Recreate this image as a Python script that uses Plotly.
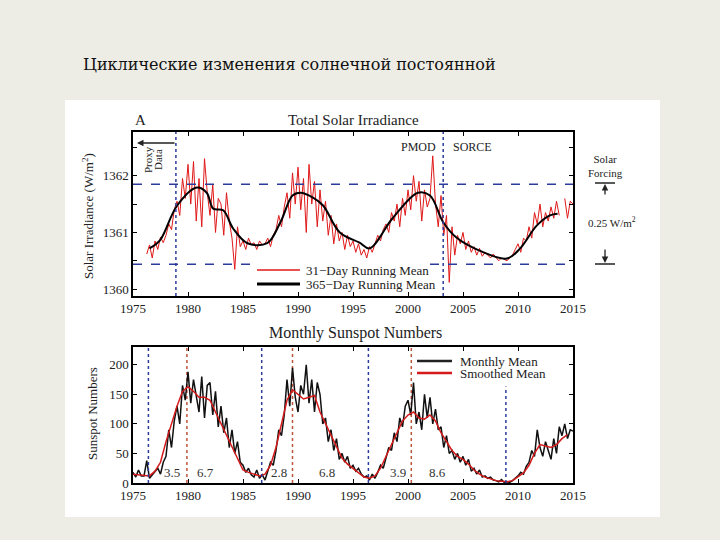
import plotly.graph_objects as go

# --- Total solar irradiance, 31-day running mean (quarter-year samples from 1976.25) ---
tsi31 = [
    1360.62, 1360.78, 1360.55,
    1360.85, 1360.70, 1360.92, 1360.82,
    1360.95, 1361.15, 1361.05, 1361.40,
    1361.55, 1361.30, 1361.95, 1361.60,
    1362.20, 1361.50, 1362.25, 1361.20,
    1361.95, 1361.10, 1362.30, 1361.70,
    1361.30, 1361.85, 1361.00, 1361.60,
    1361.50, 1360.95, 1361.70, 1361.20,
    1360.90, 1360.35, 1361.10, 1360.75,
    1360.85, 1360.70, 1360.90, 1360.78,
    1360.82, 1360.70, 1360.85, 1360.78,
    1360.80, 1360.90, 1360.75, 1360.95,
    1361.05, 1361.30, 1361.10, 1361.45,
    1361.70, 1361.25, 1362.05, 1361.50,
    1362.15, 1361.40, 1361.95, 1361.00,
    1362.20, 1361.50, 1361.90, 1361.10,
    1361.75, 1361.20, 1361.55, 1360.95,
    1361.30, 1360.80, 1361.15, 1360.85,
    1361.00, 1360.70, 1360.95, 1360.75,
    1360.85, 1360.65, 1360.80, 1360.60,
    1360.70, 1360.55, 1360.75, 1360.65,
    1360.80, 1360.95, 1360.85, 1361.05,
    1361.15, 1361.00, 1361.35, 1361.20,
    1361.50, 1361.10, 1361.60, 1361.30,
    1361.75, 1361.40, 1362.00, 1361.55,
    1361.90, 1361.20, 1361.75, 1361.45,
    1361.60, 1362.35, 1361.50, 1361.10,
    1361.65, 1360.95, 1361.30, 1360.12,
    1361.10, 1360.60, 1360.95, 1360.80,
    1361.00, 1360.70, 1360.85, 1360.65,
    1360.75, 1360.60, 1360.72, 1360.58,
    1360.65, 1360.60, 1360.55, 1360.62,
    1360.55, 1360.50, 1360.55, 1360.52,
    1360.50, 1360.55, 1360.60, 1360.70,
    1360.80, 1360.65, 1360.90, 1360.85,
    1361.10, 1360.90, 1361.35, 1361.15,
    1361.50, 1361.10, 1361.35, 1361.20,
    1361.45, 1361.25, 1361.55, 1361.30,
    None, 1361.60, 1361.25, 1361.55,
    1361.50,
]
tsi31_years = [1976.25 + 0.25 * i for i in range(len(tsi31))]

# --- 365-day running mean ---
tsi365_years = [1976.5, 1977.45, 1979.0, 1980.8, 1981.7, 1982.3, 1983.2, 1984.1, 1985.4,
                1987.2, 1988.4, 1989.5, 1990.2, 1991.4, 1992.3, 1993.8, 1995.6, 1996.5,
                1998.6, 2000.9, 2002.0, 2003.2, 2004.4, 2006.5, 2009.0, 2010.2, 2011.7,
                2012.9, 2013.6]
tsi365 = [1360.72, 1360.86, 1361.47, 1361.79, 1361.70, 1361.42, 1361.39, 1361.07, 1360.81,
          1360.81, 1361.18, 1361.65, 1361.70, 1361.61, 1361.47, 1361.00, 1360.82, 1360.72,
          1361.25, 1361.70, 1361.65, 1361.18, 1360.91, 1360.68, 1360.54, 1360.72, 1361.12,
          1361.30, 1361.33]

# --- Monthly sunspot numbers (quarter-year samples from 1975.0) ---
ssn_monthly = [
    18, 10, 22, 12,
    12, 38, 8, 14,
    18, 25, 15, 35,
    45, 90, 60, 105,
    130, 100, 165, 140,
    188, 135, 175, 150,
    120, 180, 110, 165,
    170, 115, 155, 95,
    130, 85, 110, 60,
    90, 50, 70, 35,
    30, 18, 25, 14,
    10, 22, 8, 14,
    5, 20, 35, 30,
    55, 90, 80, 115,
    175, 130, 195, 145,
    120, 165, 150, 200,
    135, 175, 120, 170,
    150, 100, 110, 70,
    90, 55, 75, 40,
    50, 35, 45, 25,
    30, 20, 25, 15,
    10, 12, 5, 15,
    8, 18, 30, 25,
    45, 60, 55, 85,
    70, 110, 95, 130,
    140, 115, 170, 100,
    120, 90, 150, 110,
    145, 100, 125, 90,
    95, 60, 80, 50,
    55, 40, 50, 35,
    45, 30, 40, 20,
    25, 15, 22, 10,
    12, 8, 10, 5,
    4, 2, 6, 1,
    2, 1, 4, 8,
    12, 18, 15, 28,
    35, 55, 45, 90,
    60, 45, 70, 55,
    40, 75, 50, 95,
    80, 100, 75, 90,
    88,
]
ssn_monthly_years = [1975.0 + 0.25 * i for i in range(len(ssn_monthly))]

# --- Smoothed sunspot numbers (half-year samples from 1975.0) ---
ssn_smoothed = [
    15, 14, 13, 12, 20, 35, 70, 100, 130, 155,
    163, 155, 145, 145, 140, 120, 100, 80, 60, 40,
    22, 18, 15, 12, 15, 30, 60, 100, 140, 158,
    150, 142, 145, 148, 120, 100, 80, 60, 42, 32,
    25, 18, 10, 8, 12, 25, 45, 65, 85, 105,
    115, 120, 110, 108, 115, 105, 85, 70, 55, 45,
    40, 32, 22, 15, 10, 7, 4, 3, 2, 4,
    10, 17, 30, 50, 65, 62, 60, 65, 75, 82,
]
ssn_smoothed_years = [1975.0 + 0.5 * i for i in range(len(ssn_smoothed))]

# reference markers
instrument_breaks = [1978.9, 2003.2]
forcing_levels = [1361.85, 1360.44]
cycle_minima = [1976.4, 1986.7, 1996.4, 2008.9]
cycle_maxima = [1979.9, 1989.5, 2000.3]
rise_fall_labels = ["3.5", "6.7", "2.8", "6.8", "3.9", "8.6"]
rise_fall_years = [1978.5, 1981.6, 1988.3, 1992.6, 1999.1, 2002.7]

W, H = 720, 540
SERIF = "Liberation Serif, Times New Roman, serif"
BLUE = "#2b3c9c"
REDDOT = "#c0543a"


def px(x):
    return x / W


def py(y):
    return 1 - y / H


fig = go.Figure()

fig.add_trace(go.Scatter(x=tsi31_years, y=tsi31, mode="lines", line=dict(color="#e01818", width=1),
                         xaxis="x", yaxis="y", showlegend=False, connectgaps=False))
fig.add_trace(go.Scatter(x=tsi365_years, y=tsi365, mode="lines", line=dict(color="black", width=2, shape="spline"),
                         xaxis="x", yaxis="y", showlegend=False))
fig.add_trace(go.Scatter(x=ssn_monthly_years, y=ssn_monthly, mode="lines", line=dict(color="#111111", width=1.5),
                         xaxis="x2", yaxis="y2", showlegend=False))
fig.add_trace(go.Scatter(x=ssn_smoothed_years, y=ssn_smoothed, mode="lines",
                         line=dict(color="#d41a1a", width=1.5),
                         xaxis="x2", yaxis="y2", showlegend=False))

shapes = []
# white picture area
shapes.append(dict(type="rect", xref="paper", yref="paper", x0=px(65), x1=px(660), y0=py(517), y1=py(100),
                   fillcolor="white", line=dict(width=0), layer="below"))
for xv in instrument_breaks:
    shapes.append(dict(type="line", xref="x", yref="y domain", x0=xv, x1=xv, y0=0, y1=1,
                       line=dict(color=BLUE, width=1.5, dash="dot")))
shapes.append(dict(type="line", xref="x domain", yref="y", x0=0, x1=1, y0=forcing_levels[0], y1=forcing_levels[0],
                   line=dict(color=BLUE, width=1.5, dash="dash")))
shapes.append(dict(type="line", xref="x", yref="y", x0=1975, x1=1985.8, y0=forcing_levels[1], y1=forcing_levels[1],
                   line=dict(color=BLUE, width=1.5, dash="dash")))
shapes.append(dict(type="line", xref="x", yref="y", x0=2002.0, x1=2015, y0=forcing_levels[1], y1=forcing_levels[1],
                   line=dict(color=BLUE, width=1.5, dash="dash")))
for i, xv in enumerate(cycle_minima):
    top = 163 if i == len(cycle_minima) - 1 else 230
    shapes.append(dict(type="line", xref="x2", yref="y2", x0=xv, x1=xv, y0=0, y1=top,
                       line=dict(color=BLUE, width=1.5, dash="dot")))
for xv in cycle_maxima:
    shapes.append(dict(type="line", xref="x2", yref="y2 domain", x0=xv, x1=xv, y0=0, y1=1,
                       line=dict(color=REDDOT, width=1.5, dash="dot"), layer="below"))

# manual legends
legend_items = [
    (257, 300, 270, "#e01818", 1.5, "31\u2212Day Running Mean", 304),
    (257, 300, 284, "black", 3, "365\u2212Day Running Mean", 304),
    (417, 452, 361, "#222222", 2.5, "Monthly Mean", 458),
    (417, 452, 373, "#d41a1a", 2.5, "Smoothed Mean", 458),
]
annotations = []
for x0, x1, yy, col, wdt, txt, tx in legend_items:
    shapes.append(dict(type="line", xref="paper", yref="paper", x0=px(x0), x1=px(x1), y0=py(yy), y1=py(yy),
                       line=dict(color=col, width=wdt)))
    annotations.append(dict(x=px(tx), y=py(yy), xref="paper", yref="paper", text=txt, showarrow=False,
                            xanchor="left", yanchor="middle", font=dict(family=SERIF, size=13, color="#222")))

# solar forcing bars
for yy in (183, 264):
    shapes.append(dict(type="line", xref="paper", yref="paper", x0=px(595), x1=px(615), y0=py(yy), y1=py(yy),
                       line=dict(color="#222", width=1.5)))


def ann(x, y, text, size=13, color="#222", family=SERIF, **kw):
    d = dict(x=px(x), y=py(y), xref="paper", yref="paper", text=text, showarrow=False,
             xanchor="center", yanchor="middle", font=dict(family=family, size=size, color=color))
    d.update(kw)
    annotations.append(d)


ann(289, 65, "Циклические изменения солнечной постоянной", size=16, color="#111",
    family="DejaVu Serif, Liberation Serif, serif")
ann(140, 120, "A", size=15)
ann(353, 120, "Total Solar Irradiance", size=15)
ann(355, 333, "Monthly Sunspot Numbers", size=16)
ann(418, 147, "PMOD", size=12)
ann(472, 147, "SORCE", size=12)
ann(148, 160, "Proxy", size=11, textangle=-90)
ann(158, 160, "Data", size=11, textangle=-90)
ann(605, 166, "Solar<br>Forcing", size=11)
ann(612, 222, "0.25 W/m<sup>2</sup>", size=11)
ann(88, 216, "Solar Irradiance (W/m<sup>2</sup>)", size=13, textangle=-90)
ann(92, 414, "Sunspot Numbers", size=13, textangle=-90)

# arrows (tail offsets in pixels)
for hx, hy, dx, dy in [(137, 143, 39, 0), (605, 184, 0, 12), (605, 263, 0, -15)]:
    annotations.append(dict(x=px(hx), y=py(hy), ax=dx, ay=dy, xref="paper", yref="paper",
                            axref="pixel", ayref="pixel", text="", showarrow=True, arrowhead=2,
                            arrowsize=1, arrowwidth=1.3, arrowcolor="#222"))

for lab, xv in zip(rise_fall_labels, rise_fall_years):
    annotations.append(dict(x=xv, y=17, xref="x2", yref="y2", text=lab, showarrow=False,
                            font=dict(family=SERIF, size=13, color="#333")))

axis_common = dict(showline=True, linecolor="black", linewidth=1.5, mirror="ticks", ticks="inside",
                   ticklen=4, tickcolor="black", showgrid=False, zeroline=False, automargin=False,
                   tickfont=dict(family=SERIF, size=13, color="#222"))

year_ticks = [1975, 1980, 1985, 1990, 1995, 2000, 2005, 2010, 2015]

fig.update_layout(
    width=W, height=H,
    margin=dict(l=0, r=0, t=0, b=0, pad=0, autoexpand=False),
    paper_bgcolor="#eeede5",
    plot_bgcolor="white",
    showlegend=False,
    xaxis=dict(domain=[px(133), px(573)], range=[1975, 2015], tickvals=year_ticks, anchor="y", **axis_common),
    yaxis=dict(domain=[py(296), py(132)], range=[1359.88, 1362.77],
               tickvals=[1360, 1360.5, 1361, 1361.5, 1362, 1362.5],
               ticktext=["1360", "", "1361", "", "1362", ""], anchor="x", **axis_common),
    xaxis2=dict(domain=[px(133), px(573)], range=[1975, 2015], tickvals=year_ticks, anchor="y2", **axis_common),
    yaxis2=dict(domain=[py(483), py(347)], range=[0, 230], tickvals=[0, 50, 100, 150, 200],
                anchor="x2", **axis_common),
    shapes=shapes,
    annotations=annotations,
)

# the page body has a default 8px margin; drop it so the figure fills the window
fig.write_html("out.html", config={"displayModeBar": False},
               post_script="document.body.style.margin='0';")
